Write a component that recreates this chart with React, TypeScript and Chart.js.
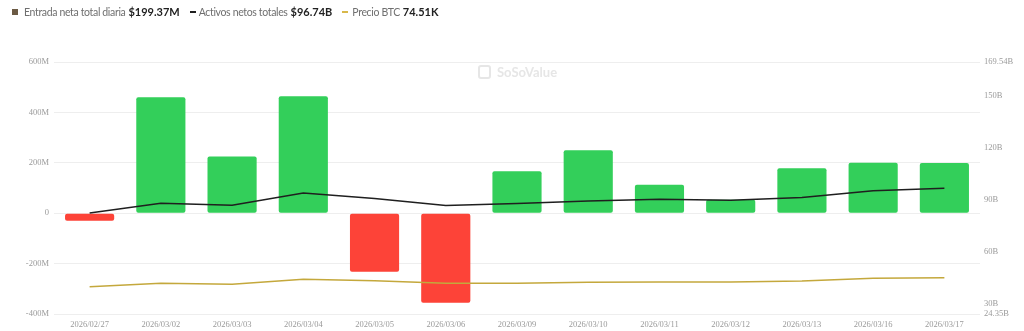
import React, { useEffect, useRef } from "react";
import { Chart, registerables } from "chart.js";

Chart.register(...registerables);

const categories = [
  "2026/02/27", "2026/03/02", "2026/03/03", "2026/03/04", "2026/03/05", "2026/03/06",
  "2026/03/09", "2026/03/10", "2026/03/11", "2026/03/12", "2026/03/13", "2026/03/16", "2026/03/17",
];
// Daily total net inflow, millions USD
const netInflowM = [-30, 460, 225, 464, -232, -355, 166, 250, 113, 53, 178, 200, 199.37];
// Total net assets, billions USD
const totalAssetsB = [82.6, 88.2, 87.0, 94.1, 90.9, 86.9, 88.0, 89.5, 90.5, 89.9, 91.5, 95.3, 96.74];
// BTC price, thousands USD
const btcPriceK = [65.5, 68.9, 67.9, 72.9, 71.5, 68.9, 68.9, 69.9, 70.2, 70.2, 71.2, 73.9, 74.51];

const leftTicksM = [-400, -200, 0, 200, 400, 600];
const rightTicksB = [24.35, 30, 60, 90, 120, 150, 169.54];

const GREEN = "#33cf5a";
const RED = "#fd4338";
const tickFont = { family: "'Liberation Serif', serif", size: 8.5 };
const tickColor = "#9a9a9a";

function fmtM(v: number) {
  return v === 0 ? "0" : `${v}M`;
}

export default function App() {
  const ref = useRef<HTMLCanvasElement | null>(null);

  useEffect(() => {
    if (!ref.current) return;
    const chart = new Chart(ref.current, {
      type: "bar",
      data: {
        labels: categories,
        datasets: [
          {
            type: "line",
            label: "Activos netos totales",
            data: totalAssetsB,
            yAxisID: "yR",
            borderColor: "#1f1f1f",
            borderWidth: 1.5,
            pointRadius: 0,
            tension: 0,
            order: 0,
          },
          {
            type: "line",
            label: "Precio BTC",
            data: btcPriceK,
            yAxisID: "yBtc",
            borderColor: "#c4a83c",
            borderWidth: 1.5,
            pointRadius: 0,
            tension: 0,
            order: 0,
          },
          {
            type: "bar",
            label: "Entrada neta total diaria",
            data: netInflowM,
            yAxisID: "yL",
            backgroundColor: netInflowM.map((v) => (v >= 0 ? GREEN : RED)),
            borderRadius: 2,
            borderSkipped: false,
            categoryPercentage: 1,
            barPercentage: 0.69,
            order: 1,
          },
        ],
      },
      options: {
        animation: false,
        responsive: false,
        maintainAspectRatio: false,
        layout: { padding: { top: 62, left: 0, right: 0, bottom: 0 } },
        plugins: { legend: { display: false }, tooltip: { enabled: false } },
        scales: {
          x: {
            grid: { display: false, drawTicks: false },
            border: { display: false },
            ticks: { font: tickFont, color: tickColor, maxRotation: 0, autoSkip: false, padding: 6 },
            afterFit: (s: any) => { s.height = 17; },
          },
          yL: {
            position: "left",
            min: -400,
            max: 600,
            afterBuildTicks: (s: any) => { s.ticks = leftTicksM.map((v) => ({ value: v })); },
            grid: { color: "#eeeeee", drawTicks: false, lineWidth: 1 },
            border: { display: false },
            ticks: { font: tickFont, color: tickColor, padding: 5, callback: (v: any) => fmtM(Number(v)) },
            afterFit: (s: any) => { s.width = 54; },
          },
          yR: {
            position: "right",
            min: 24.35,
            max: 169.54,
            afterBuildTicks: (s: any) => { s.ticks = rightTicksB.map((v) => ({ value: v })); },
            grid: { display: false, drawTicks: false },
            border: { display: false },
            ticks: { font: tickFont, color: tickColor, padding: 4, callback: (v: any) => `${v}B` },
            afterFit: (s: any) => { s.width = 44; },
          },
          yBtc: {
            display: false,
            min: 38.2,
            max: 290.2,
          },
        },
      },
    } as any);
    return () => chart.destroy();
  }, []);

  const legendText: React.CSSProperties = {
    color: "#6f6f6f",
    marginRight: 3,
    fontSize: 10.5,
    letterSpacing: -0.35,
  };
  const legendVal: React.CSSProperties = { color: "#222", fontWeight: 700, marginRight: 10, fontSize: 11 };

  return (
    <div
      style={{
        position: "fixed",
        left: 0,
        top: 0,
        width: 1024,
        height: 331,
        background: "#fff",
        overflow: "hidden",
      }}
    >
      <canvas ref={ref} width={1024} height={331} style={{ position: "absolute", left: 0, top: 0 }} />
      <div
        style={{
          position: "absolute",
          left: 12,
          top: 5,
          fontFamily: "Lato, 'Open Sans', sans-serif",
          display: "flex",
          alignItems: "center",
          whiteSpace: "nowrap",
          lineHeight: "14px",
        }}
      >
        <span style={{ width: 6, height: 6, background: "#6b5a44", display: "inline-block", marginRight: 6 }} />
        <span style={legendText}>Entrada neta total diaria</span>
        <span style={legendVal}>$199.37M</span>
        <span style={{ width: 6, height: 2, background: "#1f1f1f", display: "inline-block", marginRight: 3 }} />
        <span style={legendText}>Activos netos totales</span>
        <span style={legendVal}>$96.74B</span>
        <span style={{ width: 6, height: 2, background: "#d8b84a", display: "inline-block", marginRight: 4 }} />
        <span style={legendText}>Precio BTC</span>
        <span style={legendVal}>74.51K</span>
      </div>
      <div
        style={{
          position: "absolute",
          left: 478,
          top: 64,
          display: "flex",
          alignItems: "center",
          fontFamily: "Lato, sans-serif",
          color: "#e6e6e6",
        }}
      >
        <span
          style={{
            width: 13,
            height: 14,
            border: "2px solid #e6e6e6",
            borderRadius: 3,
            display: "inline-block",
            marginRight: 6,
            boxSizing: "border-box",
          }}
        />
        <span style={{ fontSize: 13, fontWeight: 700 }}>SoSoValue</span>
      </div>
    </div>
  );
}
